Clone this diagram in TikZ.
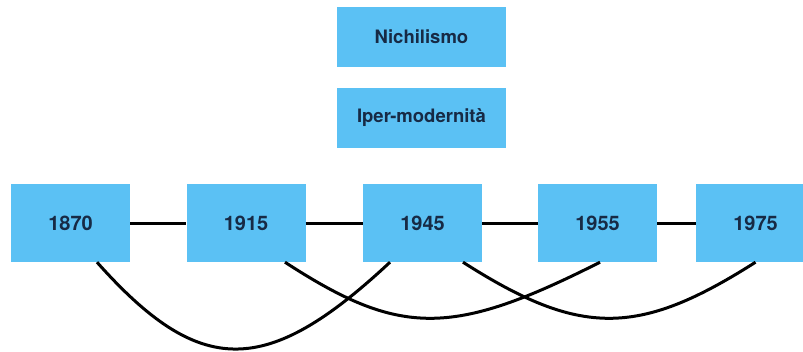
\documentclass[tikz,border=0pt]{standalone}
\usepackage{fontspec}
\setmainfont{TeX Gyre Heros}
\usetikzlibrary{calc}
\definecolor{boxblue}{HTML}{5BC1F4}
\definecolor{txtnavy}{HTML}{172A45}
\tikzset{
  yearbox/.style={rectangle, fill=boxblue, minimum width=119pt, minimum height=78pt, inner sep=0pt,
    text=txtnavy, font=\fontsize{20}{24}\selectfont\bfseries},
  topbox/.style={rectangle, fill=boxblue, minimum width=169pt, minimum height=60pt, inner sep=0pt,
    text=txtnavy, font=\fontsize{18.5}{22}\selectfont\bfseries},
  link/.style={line width=3pt, black},
  arc/.style={line width=3pt, black},
}
\begin{document}
\begin{tikzpicture}[x=1pt, y=-1pt]
\useasboundingbox (0,0) rectangle (803,351);
\begin{scope}
\clip (0,0) rectangle (803,351);
\node[topbox] (nich) at (421.5,37) {Nichilismo};
\node[topbox] (iper) at (421.5,117.5) {Iper-modernità};
\node[yearbox] (y1870) at (70.5,223) {1870};
\node[yearbox] (y1915) at (246,223) {1915};
\node[yearbox] (y1945) at (422.5,223) {1945};
\node[yearbox] (y1955) at (597.5,223) {1955};
\node[yearbox] (y1975) at (755.5,223) {1975};
\draw[link] (y1870) -- (y1915);
\draw[link] (y1915) -- (y1945);
\draw[link] (y1945) -- (y1955);
\draw[link] (y1955) -- (y1975);
\coordinate (a1) at ($(y1870.south)+(26.5,0)$);
\coordinate (a2) at ($(y1945.south)+(-32.5,0)$);
\coordinate (b1) at ($(y1915.south)+(39,0)$);
\coordinate (b2) at ($(y1955.south)+(2.5,0)$);
\coordinate (c1) at ($(y1945.south)+(40.5,0)$);
\coordinate (c2) at ($(y1975.south)+(0,0)$);
\draw[arc] (a1) .. controls (200,378) and (266,378) .. (a2);
\draw[arc] (b1) .. controls (400,337) and (452,337) .. (b2);
\draw[arc] (c1) .. controls (580,337) and (638,337) .. (c2);
\end{scope}
\end{tikzpicture}
\end{document}
